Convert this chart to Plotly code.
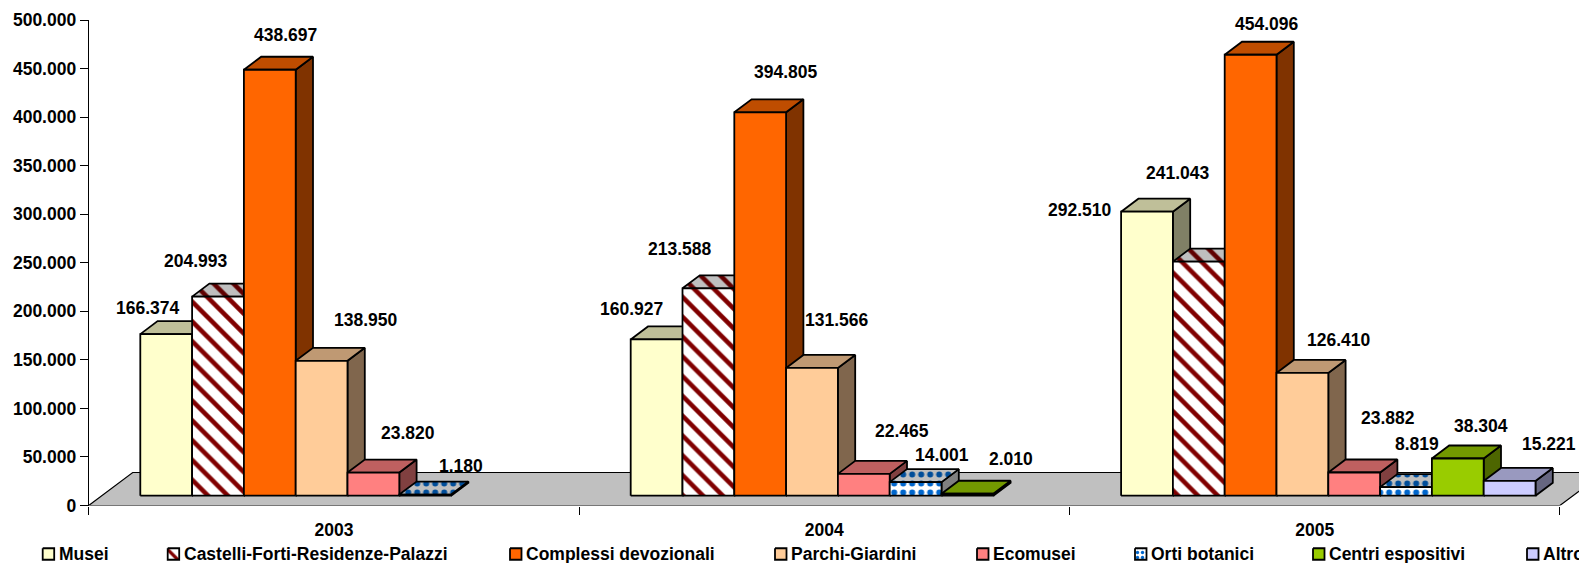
import plotly.graph_objects as go

# ---------- data ----------
years = ["2003", "2004", "2005"]
series_names = ["Musei", "Castelli-Forti-Residenze-Palazzi", "Complessi devozionali",
                "Parchi-Giardini", "Ecomusei", "Orti botanici", "Centri espositivi", "Altro"]
musei = [166374, 160927, 292510]
castelli = [204993, 213588, 241043]
complessi = [438697, 394805, 454096]
parchi = [138950, 131566, 126410]
ecomusei = [23820, 22465, 23882]
orti = [1180, 14001, 8819]
centri = [None, 2010, 38304]
altro = [None, None, 15221]
all_values = [musei, castelli, complessi, parchi, ecomusei, orti, centri, altro]
y_ticks = [0, 50000, 100000, 150000, 200000, 250000, 300000, 350000, 400000, 450000, 500000]

# ---------- styles ----------
front_col = ["#FFFFCC", "#FFFFFF", "#FF6600", "#FFCC99", "#FF8080", "#FFFFFF", "#99CC00", "#CCCCFF"]
top_col = ["#BFBF99", "#BFBFBF", "#BF4D00", "#BF9973", "#BF6060", "#BFBFBF", "#739900", "#9999BF"]
side_col = ["#808066", "#808080", "#803300", "#80664D", "#804040", "#808080", "#4D6600", "#666680"]
pattern_shape = {1: "\\", 5: "."}
pattern_fg = {1: ("#800000", "#600000"), 5: ("#0066CC", "#004D99")}
pattern_size = {1: 14, 5: 9}
pattern_solid = {1: 0.33, 5: 0.35}
FONT = "Liberation Sans"
FS = 17.5

# geometry (page pixels)
W, H = 1579, 563
X0, CAT_W = 88.7, 490.4
Y0, Y500 = 505.5, 20.0
PX_PER_VAL = (Y0 - Y500) / 500000
BAR_W = 51.8 / CAT_W
FIRST_OFF = -167.7 / CAT_W
BASE = 9.8 / PX_PER_VAL
DX, DY = 17.3 / CAT_W, 13 / PX_PER_VAL
FLOOR_DX, FLOOR_DY = 44 / CAT_W, 33 / PX_PER_VAL
LW = 1.8

# label shifts in pixels (right, up) by series then year
label_shift = [
    [(-18.5, 26.3), (-25.6, 30.6), (-67.5, 1.5)],
    [(-22, 36), (-28.4, 39.5), (-21, 89)],
    [(16, 35), (26, 40), (16, 31)],
    [(44, 41), (25, 48), (36.6, 33)],
    [(35, 40), (38, 43), (34, 54.5)],
    [(35.5, 28.6), (26, 27), (11, 43)],
    [None, (43.6, 34.8), (23, 32.5)],
    [None, None, (39.4, 37)],
]
legend_x = [42.7, 167.7, 510, 775, 977, 1135, 1313, 1527]
LEG_Y, LEG_SW, LEG_TEXT_GAP = 554, 11.5, 14

fig = go.Figure()


def poly(xs, ys, fill, name, pattern=None, xaxis="x", yaxis="y", clip=True, lw=LW):
    tr = dict(x=xs + xs[:1], y=ys + ys[:1], mode="lines", fill="toself", fillcolor=fill,
              line=dict(color="#000000", width=lw), name=name, showlegend=False,
              hoverinfo="skip", xaxis=xaxis, yaxis=yaxis, cliponaxis=clip)
    if pattern:
        tr["fillpattern"] = pattern
    fig.add_trace(go.Scatter(**tr))


# floor
xl, xr = -0.5, 2.5
poly([xl, xr, xr + FLOOR_DX, xl + FLOOR_DX], [0, 0, FLOOR_DY, FLOOR_DY], "#C0C0C0", "floor",
     clip=False, lw=1.2)

# bars, painted left to right
annots = []
for c in range(len(years)):
    for s, vals in enumerate(all_values):
        v = vals[c]
        if v is None:
            continue
        x1 = c + FIRST_OFF + s * BAR_W - BAR_W / 2
        x2 = x1 + BAR_W
        yb, yt = BASE, BASE + v
        pf = pt = None
        if s in pattern_shape:
            pf = dict(shape=pattern_shape[s], fgcolor=pattern_fg[s][0], bgcolor=front_col[s],
                      size=pattern_size[s], solidity=pattern_solid[s], fillmode="replace")
            pt = dict(shape=pattern_shape[s], fgcolor=pattern_fg[s][1], bgcolor=top_col[s],
                      size=pattern_size[s], solidity=pattern_solid[s], fillmode="replace")
        poly([x2, x2 + DX, x2 + DX, x2], [yb, yb + DY, yt + DY, yt], side_col[s], series_names[s] + " side")
        poly([x1, x1 + DX, x2 + DX, x2], [yt, yt + DY, yt + DY, yt], top_col[s], series_names[s] + " top", pt)
        poly([x1, x2, x2, x1], [yb, yb, yt, yt], front_col[s], series_names[s], pf)
        sx, sy = label_shift[s][c]
        annots.append(dict(x=(x1 + x2) / 2, y=yt, xref="x", yref="y", xshift=sx, yshift=sy,
                           text=f"{v:,}".replace(",", "."), showarrow=False,
                           xanchor="center", yanchor="middle",
                           font=dict(family=FONT, size=FS, color="#000000", weight=700)))

# legend drawn on a page-sized overlay so it can run off the right edge as in the reference
for s, name in enumerate(series_names):
    lx = legend_x[s]
    pf = None
    if s in pattern_shape:
        pf = dict(shape=pattern_shape[s], fgcolor=pattern_fg[s][0], bgcolor=front_col[s],
                  size=max(pattern_size[s] - 4, 5), solidity=pattern_solid[s], fillmode="replace")
    poly([lx, lx + LEG_SW, lx + LEG_SW, lx], [LEG_Y - LEG_SW / 2, LEG_Y - LEG_SW / 2, LEG_Y + LEG_SW / 2, LEG_Y + LEG_SW / 2],
         front_col[s], name + " key", pf, xaxis="x2", yaxis="y2")
    annots.append(dict(x=lx + LEG_TEXT_GAP, y=LEG_Y, xref="x2", yref="y2", text=name, showarrow=False,
                       xanchor="left", yanchor="middle",
                       font=dict(family=FONT, size=FS, color="#000000", weight=700)))

fig.update_layout(
    width=W, height=H, autosize=False, margin=dict(l=0, r=0, t=0, b=0),
    paper_bgcolor="#FFFFFF", plot_bgcolor="rgba(0,0,0,0)", separators=",.", showlegend=False,
    font=dict(family=FONT, size=FS, color="#000000"),
    annotations=annots,
    xaxis=dict(domain=[X0 / W, 1], range=[-0.5, -0.5 + (W - X0) / CAT_W], showgrid=False, zeroline=False,
               showline=False, tickvals=[0, 1, 2], ticktext=years, ticks="outside", ticklen=8,
               tickcolor="rgba(0,0,0,0)", anchor="y", automargin=False,
               tickfont=dict(family=FONT, size=FS, color="#000000", weight=700),
               minor=dict(tickvals=[-0.5, 0.5, 1.5, 2.5], ticks="outside", ticklen=8, tickwidth=1,
                          tickcolor="#000000", showgrid=False)),
    yaxis=dict(domain=[(H - Y0) / H, (H - Y500) / H], range=[0, 500000], showgrid=False, zeroline=False,
               showline=True, linecolor="#000000", linewidth=1, tickvals=y_ticks, tickformat=",d",
               ticks="outside", ticklen=8, tickwidth=1, tickcolor="#000000", anchor="x", automargin=False,
               tickfont=dict(family=FONT, size=FS, color="#000000", weight=700)),
    xaxis2=dict(domain=[0, 1], range=[0, W], visible=False, anchor="y2", automargin=False),
    yaxis2=dict(domain=[0, 1], range=[H, 0], visible=False, anchor="x2", automargin=False),
)
fig.write_html("out.html", config={"displayModeBar": False},
               post_script="document.body.style.margin='0';document.body.style.overflow='hidden';")
